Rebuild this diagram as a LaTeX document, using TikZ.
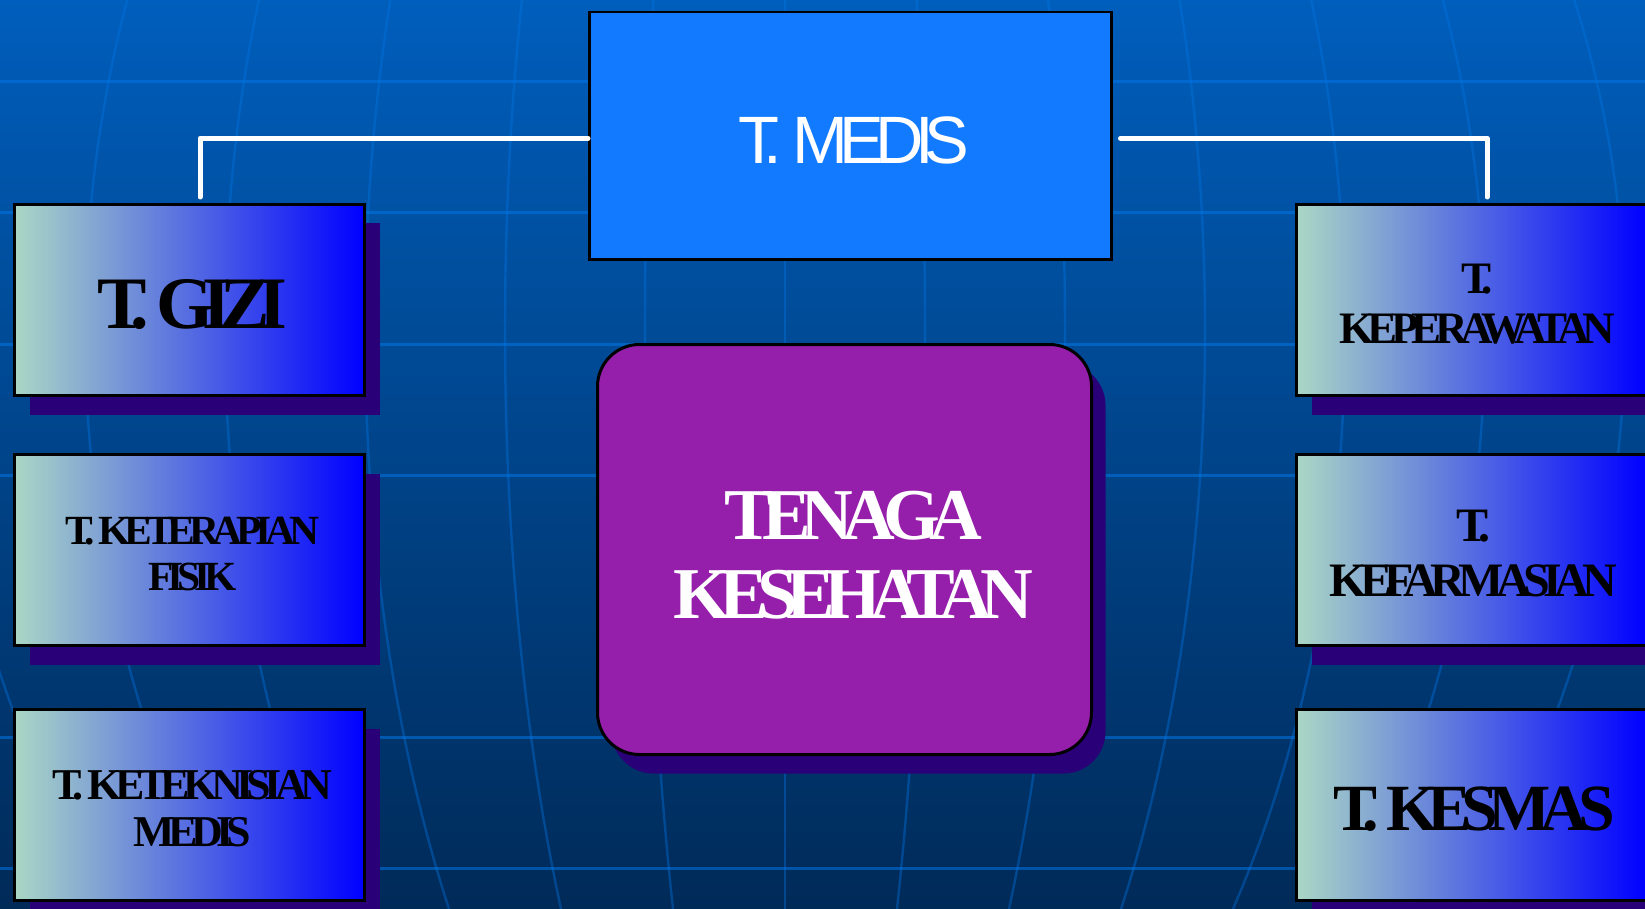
\documentclass[tikz,border=0pt]{standalone}
\usepackage{fontspec}
\usetikzlibrary{shadows}
\newfontfamily\boxserif[LetterSpace=-15]{Liberation Serif}
\newfontfamily\boxsans[LetterSpace=-13]{Liberation Sans}
\definecolor{bgtop}{RGB}{0,94,188}
\definecolor{bgbot}{RGB}{0,42,88}
\definecolor{gridc}{RGB}{0,118,230}
\definecolor{leafl}{RGB}{170,215,197}
\definecolor{leafr}{RGB}{0,0,255}
\definecolor{shad}{RGB}{42,0,120}
\definecolor{medc}{RGB}{18,122,255}
\definecolor{centc}{RGB}{149,30,170}
\tikzset{
  hgrid/.style={draw=gridc, line width=3pt, opacity=0.55},
  vgrid/.style={draw=gridc, line width=2.4pt, opacity=0.38},
  leafbox/.style={draw=black, line width=3pt, left color=leafl, right color=leafr,
    minimum width=350pt, minimum height=191pt, anchor=north west, inner sep=0pt,
    general shadow={fill=shad, shadow xshift=15pt, shadow yshift=-19pt}},
  medisbox/.style={draw=black, line width=2.5pt, fill=medc, minimum width=522pt,
    minimum height=247pt, anchor=north west, inner sep=0pt},
  centbox/.style={draw=black, line width=3pt, fill=centc, rounded corners=42pt,
    minimum width=494pt, minimum height=410pt, anchor=north west, inner sep=0pt,
    general shadow={fill=shad, shadow xshift=14pt, shadow yshift=-19pt}},
  leaftxt/.style={text=black, align=center, inner sep=0pt},
  conn/.style={draw=white, line width=5pt, line cap=round, line join=round}
}
\begin{document}
\begin{tikzpicture}[x=1pt, y=-1pt]
\useasboundingbox (0,0) rectangle (1645,909);
\shade[top color=bgtop, bottom color=bgbot] (0,0) rectangle (1645,909);
\foreach \yy in {82,213,344,475,737,868}
  \draw[hgrid] (0,\yy) -- (1645,\yy);
\foreach \k in {-6,...,6}
  \draw[vgrid] plot[domain=0:909, samples=40, variable=\t]
    ({785+\k*140*sqrt(1-((\t-330)/965)^2)}, \t);

% top box
\node[medisbox] (medis) at (588,11) {};
\node[text=white, inner sep=0pt, font=\boxsans\fontsize{67}{72}\selectfont]
  (medist) at ([shift={(4,5)}]medis.center) {T. MEDIS};

% connectors
\coordinate (lend) at (200,197);
\coordinate (rend) at (1487,197);
\draw[conn] ([shift={(0,2.5)}]medis.west) -| (lend);
\draw[conn] ([shift={(8,2.5)}]medis.east) -| (rend);

% left boxes
\node[leafbox] (gizi) at (13,203) {};
\node[leafbox] (fisik) at (13,453) {};
\node[leafbox] (tekn) at (13,708) {};
% right boxes
\node[leafbox] (perawat) at (1295,203) {};
\node[leafbox] (farmasi) at (1295,453) {};
\node[leafbox] (kesmas) at (1295,708) {};
% centre
\node[centbox] (tenaga) at (596,343) {};

\node[leaftxt, font=\boxserif\bfseries\fontsize{74}{80}\selectfont]
  (gizit) at ([shift={(3,5)}]gizi.center) {T. GIZI};
\node[leaftxt, font=\boxserif\bfseries\fontsize{41.5}{46}\selectfont]
  (fisikt) at ([shift={(3,4)}]fisik.center) {T. KETERAPIAN\\FISIK};
\node[leaftxt, font=\boxserif\bfseries\fontsize{44}{47}\selectfont]
  (teknt) at ([shift={(3,4)}]tekn.center) {T. KETEKNISIAN\\MEDIS};
\node[leaftxt, font=\boxserif\bfseries\fontsize{45}{50}\selectfont]
  (perawatt) at ([shift={(6,4)}]perawat.center) {T.\\KEPERAWATAN};
\node[leaftxt, font=\boxserif\bfseries\fontsize{48}{55}\selectfont]
  (farmasit) at ([shift={(2,4)}]farmasi.center) {T.\\KEFARMASIAN};
\node[leaftxt, font=\boxserif\bfseries\fontsize{66}{72}\selectfont]
  (kesmast) at ([shift={(3,4)}]kesmas.center) {T. KESMAS};
\node[leaftxt, text=white, font=\boxserif\bfseries\fontsize{73}{79}\selectfont]
  (tenagat) at ([shift={(9,6)}]tenaga.center) {TENAGA\\KESEHATAN};
\end{tikzpicture}
\end{document}
